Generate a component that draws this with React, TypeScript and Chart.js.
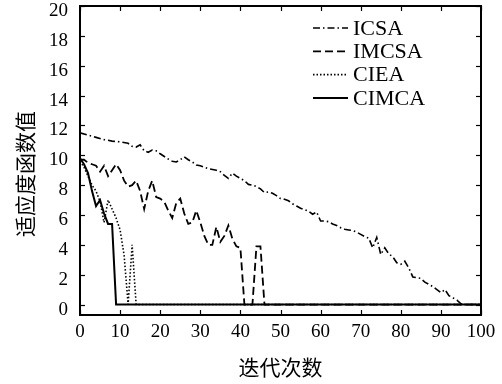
import React, { useEffect, useRef } from "react";
import { Chart, registerables } from "chart.js";

Chart.register(...registerables);

const xTicks = [0, 10, 20, 30, 40, 50, 60, 70, 80, 90, 100];
const yTicks = [0, 2, 4, 6, 8, 10, 12, 14, 16, 18, 20];
const xTitle = "迭代次数";
const yTitle = "适应度函数值";
const seriesNames = ["ICSA", "IMCSA", "CIEA", "CIMCA"];

const icsaIter = [0, 2, 4, 6, 8, 10, 12, 13, 14, 15, 16, 17, 18, 19, 20, 22, 23, 24, 25, 26, 27, 28, 29, 30, 32, 34, 35, 36, 37, 38, 39, 40, 41, 42, 43, 44, 45, 46, 47, 48, 49, 50, 51, 52, 53, 54, 55, 56, 57, 58, 59, 60, 61, 62, 63, 64, 65, 66, 67, 68, 69, 70, 71, 72, 73, 74, 75, 76, 77, 78, 79, 80, 81, 82, 83, 84, 85, 86, 87, 88, 89, 90, 91, 92, 93, 94, 95, 96, 100];
const icsaVal = [11.5, 11.35, 11.2, 11.05, 10.95, 10.9, 10.8, 10.6, 10.55, 10.7, 10.3, 10.2, 10.35, 10.3, 10.1, 9.75, 9.6, 9.55, 9.7, 9.9, 9.7, 9.55, 9.35, 9.3, 9.1, 9.0, 8.9, 8.65, 8.45, 8.8, 8.6, 8.45, 8.3, 8.05, 8.0, 7.9, 7.75, 7.5, 7.55, 7.45, 7.3, 7.1, 7.05, 6.95, 6.75, 6.6, 6.45, 6.35, 6.25, 6.05, 6.2, 5.6, 5.6, 5.55, 5.4, 5.3, 5.15, 5.05, 5.0, 4.95, 4.85, 4.7, 4.55, 4.45, 3.8, 4.5, 3.35, 3.8, 3.4, 3.2, 2.8, 2.7, 2.9, 2.45, 1.85, 1.8, 1.75, 1.5, 1.35, 1.2, 1.0, 0.8, 1.0, 0.6, 0.45, 0.3, 0.05, 0, 0];

const imcsaIter = [0, 1, 2, 3, 4, 5, 6, 7, 8, 9, 10, 11, 12, 13, 14, 15, 16, 17, 18, 19, 20, 21, 22, 23, 24, 25, 26, 27, 28, 29, 30, 31, 32, 33, 34, 35, 36, 37, 38, 39, 40, 41, 42, 43, 44, 45, 46, 100];
const imcsaVal = [9.7, 9.7, 9.5, 9.4, 9.3, 8.9, 9.3, 8.6, 9.0, 9.4, 9.0, 8.3, 7.9, 8.0, 8.3, 7.6, 6.4, 7.6, 8.3, 7.2, 7.1, 6.9, 6.3, 5.8, 6.8, 7.1, 6.1, 5.4, 5.5, 6.3, 5.5, 4.6, 4.0, 4.0, 5.2, 4.2, 4.6, 5.3, 4.4, 3.9, 3.8, 0, 0, 0, 3.9, 3.9, 0, 0];

const cieaIter = [0, 1, 2, 3, 4, 5, 6, 7, 8, 9, 10, 11, 12, 13, 14, 100];
const cieaVal = [9.6, 9.2, 8.6, 8.0, 7.6, 6.9, 5.5, 7.0, 6.4, 5.8, 5.0, 3.3, 0, 4.0, 0, 0];

const cimcaIter = [0, 1, 2, 3, 4, 5, 6, 7, 8, 9, 100];
const cimcaVal = [9.8, 9.4, 8.8, 7.6, 6.6, 7.0, 6.1, 5.4, 5.4, 0, 0];

const seriesIter = [icsaIter, imcsaIter, cieaIter, cimcaIter];
const seriesVal = [icsaVal, imcsaVal, cieaVal, cimcaVal];
const seriesDash = [[7, 3, 1.5, 3], [8, 4], [1.5, 2], []];
const seriesWidth = [1.6, 1.8, 1.6, 2];

const SERIF = '"Liberation Serif", "Times New Roman", serif';
const CJK = '"Noto Sans CJK SC", sans-serif';

const decorPlugin = {
  id: "decor",
  afterDatasetsDraw(chart: any) {
    const { ctx, chartArea: a, scales } = chart;
    const xs = scales.x;
    const ys = scales.y;
    ctx.save();
    ctx.strokeStyle = "#000";
    ctx.setLineDash([]);
    ctx.lineWidth = 1.2;
    const L = 5;
    const seg = (x1: number, y1: number, x2: number, y2: number) => {
      ctx.beginPath();
      ctx.moveTo(x1, y1);
      ctx.lineTo(x2, y2);
      ctx.stroke();
    };
    xs.ticks.forEach((t: any) => {
      const p = Math.round(xs.getPixelForValue(t.value)) + 0.5;
      seg(p, a.bottom, p, a.bottom - L);
      seg(p, a.top, p, a.top + L);
    });
    ys.ticks.forEach((t: any) => {
      const p = Math.round(ys.getPixelForValue(t.value)) + 0.5;
      seg(a.left, p, a.left + L, p);
      seg(a.right, p, a.right - L, p);
    });
    ctx.lineWidth = 2;
    ctx.strokeRect(a.left, a.top, a.right - a.left, a.bottom - a.top);

    // legend
    ctx.font = `22px ${SERIF}`;
    ctx.fillStyle = "#000";
    ctx.textBaseline = "middle";
    ctx.textAlign = "left";
    chart.data.datasets.forEach((ds: any, i: number) => {
      const y = 28 + i * 23.3;
      ctx.lineWidth = ds.borderWidth;
      ctx.setLineDash(ds.borderDash || []);
      seg(313, y, 348, y);
      ctx.setLineDash([]);
      ctx.fillText(ds.label, 353, y + 1);
    });

    // y title
    ctx.font = `21px ${CJK}`;
    ctx.textAlign = "center";
    ctx.textBaseline = "middle";
    ctx.translate(25, 174);
    ctx.rotate(-Math.PI / 2);
    ctx.fillText(yTitle, 0, 0);
    ctx.restore();
  },
};

export default function App() {
  const ref = useRef<HTMLCanvasElement | null>(null);
  useEffect(() => {
    document.body.style.margin = "0";
    const canvas = ref.current;
    if (!canvas) return;
    const chart = new Chart(canvas, {
      type: "line",
      data: {
        datasets: seriesNames.map((name, i) => ({
          label: name,
          data: seriesIter[i].map((x, j) => ({ x, y: seriesVal[i][j] })),
          borderColor: "#000",
          backgroundColor: "#000",
          borderWidth: seriesWidth[i],
          borderDash: seriesDash[i],
          pointRadius: 0,
          tension: 0,
          fill: false,
        })),
      },
      options: {
        responsive: false,
        animation: false,
        events: [],
        layout: { padding: { top: 6, right: 21, left: 0, bottom: 0 } },
        plugins: { legend: { display: false }, tooltip: { enabled: false } },
        scales: {
          x: {
            type: "linear",
            min: 0,
            max: 100,
            afterBuildTicks: (s: any) => {
              s.ticks = xTicks.map((value) => ({ value }));
            },
            afterFit: (s: any) => {
              s.height = 69;
              s.paddingLeft = 0;
              s.paddingRight = 0;
            },
            grid: { display: false, drawTicks: false },
            border: { display: false },
            ticks: {
              color: "#000",
              padding: 6,
              maxRotation: 0,
              autoSkip: false,
              font: { family: SERIF, size: 19 },
            },
            title: {
              display: true,
              text: xTitle,
              color: "#000",
              font: { family: CJK, size: 21 },
              padding: { top: 0, bottom: 4 },
            },
          },
          y: {
            type: "linear",
            min: -0.7,
            max: 20,
            afterBuildTicks: (s: any) => {
              s.ticks = yTicks.map((value) => ({ value }));
            },
            afterFit: (s: any) => {
              s.width = 80;
              s.paddingTop = 0;
              s.paddingBottom = 0;
            },
            grid: { display: false, drawTicks: false },
            border: { display: false },
            ticks: {
              color: "#000",
              padding: 12,
              labelOffset: 5,
              autoSkip: false,
              font: { family: SERIF, size: 19 },
            },
          },
        },
      },
      plugins: [decorPlugin],
    } as any);
    return () => chart.destroy();
  }, []);
  return (
    <div style={{ width: 502, height: 384 }}>
      <canvas ref={ref} width={502} height={384} style={{ display: "block" }} />
    </div>
  );
}
